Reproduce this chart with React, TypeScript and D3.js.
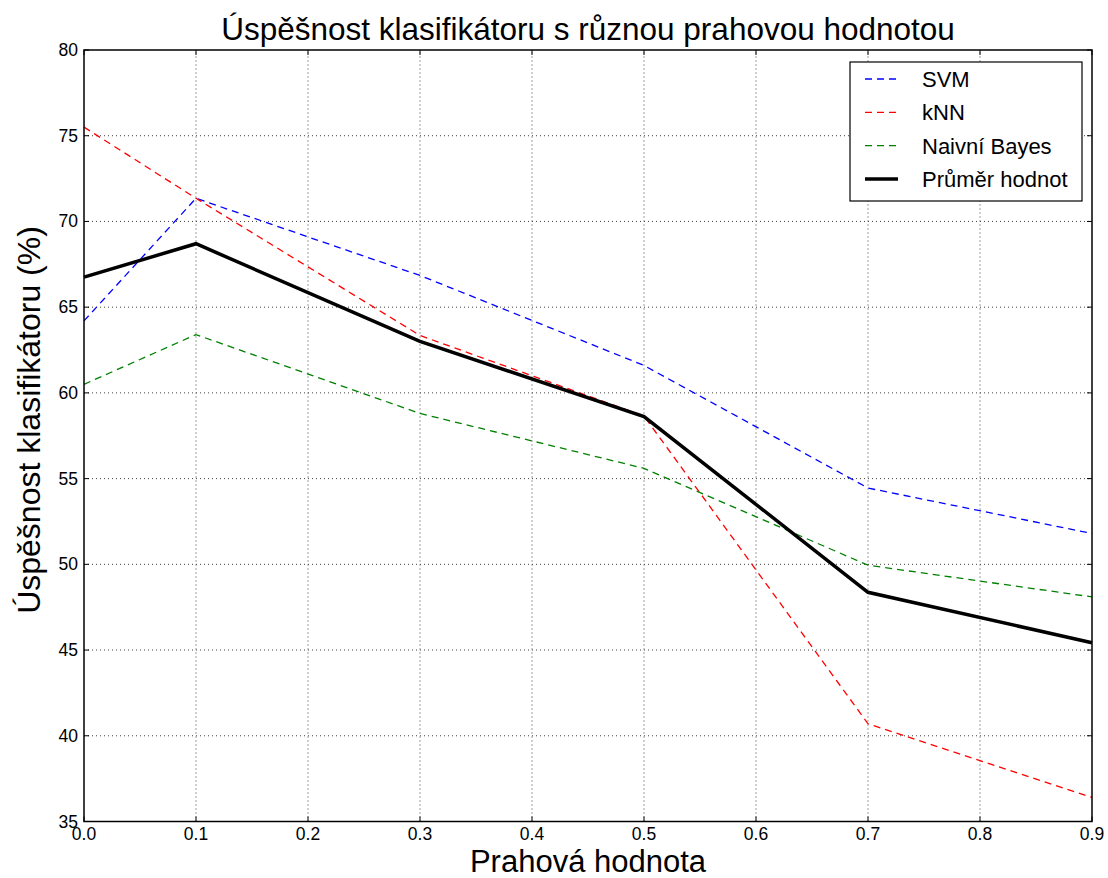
import React from "react";
import * as d3 from "d3";

const thresholds = [0.0, 0.1, 0.3, 0.5, 0.7, 0.9];
const svmValues = [64.2, 71.35, 66.85, 61.6, 54.45, 51.8];
const knnValues = [75.5, 71.35, 63.35, 58.65, 40.7, 36.4];
const bayesValues = [60.5, 63.4, 58.8, 55.6, 49.95, 48.1];
const meanValues = [66.75, 68.7, 63.0, 58.62, 48.37, 45.43];
const xTicks = [0, 0.1, 0.2, 0.3, 0.4, 0.5, 0.6, 0.7, 0.8, 0.9];
const yTicks = [35, 40, 45, 50, 55, 60, 65, 70, 75, 80];

const W = 1108;
const H = 878;
const M = { left: 84, right: 16, top: 50, bottom: 56.5 };
const FONT = "'Liberation Sans', Arial, sans-serif";

type Series = { name: string; values: number[]; color: string; width: number; dash?: string };

const series: Series[] = [
  { name: "SVM", values: svmValues, color: "#0000ff", width: 1.3, dash: "7,5" },
  { name: "kNN", values: knnValues, color: "#ff0000", width: 1.3, dash: "7,5" },
  { name: "Naivní Bayes", values: bayesValues, color: "#008000", width: 1.3, dash: "7,5" },
  { name: "Průměr hodnot", values: meanValues, color: "#000000", width: 3.5 },
];

export default function App() {
  const x = d3.scaleLinear().domain([0, 0.9]).range([M.left, W - M.right]);
  const y = d3.scaleLinear().domain([35, 80]).range([H - M.bottom, M.top]);
  const x0 = M.left, x1 = W - M.right, y0 = H - M.bottom, y1 = M.top;

  const line = (vals: number[]) =>
    d3.line<number>().x((_, i) => x(thresholds[i])).y((v) => y(v))(vals) || "";

  const tickLen = 5;
  const legX = 850, legY = 62, legW = 232, legH = 139;

  return (
    <div style={{ position: "absolute", left: 0, top: 0 }}>
      <svg width={W} height={H} style={{ display: "block", background: "#fff" }}>
        <rect x={0} y={0} width={W} height={H} fill="#fff" />
        {/* grid */}
        <g stroke="#000" strokeWidth={1} strokeDasharray="1,3" opacity={0.75}>
          {xTicks.slice(1, -1).map((t) => (
            <line key={"gx" + t} x1={x(t)} x2={x(t)} y1={y0} y2={y1} />
          ))}
          {yTicks.slice(1, -1).map((t) => (
            <line key={"gy" + t} x1={x0} x2={x1} y1={y(t)} y2={y(t)} />
          ))}
        </g>
        {/* ticks on all sides, pointing inward */}
        <g stroke="#000" strokeWidth={1}>
          {xTicks.map((t) => (
            <g key={"tx" + t}>
              <line x1={x(t)} x2={x(t)} y1={y0} y2={y0 - tickLen} />
              <line x1={x(t)} x2={x(t)} y1={y1} y2={y1 + tickLen} />
            </g>
          ))}
          {yTicks.map((t) => (
            <g key={"ty" + t}>
              <line x1={x0} x2={x0 + tickLen} y1={y(t)} y2={y(t)} />
              <line x1={x1} x2={x1 - tickLen} y1={y(t)} y2={y(t)} />
            </g>
          ))}
        </g>
        {/* data lines */}
        {series.map((s) => (
          <path
            key={s.name}
            d={line(s.values)}
            fill="none"
            stroke={s.color}
            strokeWidth={s.width}
            strokeDasharray={s.dash}
            strokeLinejoin="miter"
          />
        ))}
        {/* frame */}
        <rect x={x0} y={y1} width={x1 - x0} height={y0 - y1} fill="none" stroke="#000" strokeWidth={1.5} />
        {/* tick labels */}
        <g fontFamily={FONT} fontSize={17.5} fill="#000">
          {xTicks.map((t) => (
            <text key={"lx" + t} x={x(t)} y={y0 + 18} textAnchor="middle">
              {t.toFixed(1)}
            </text>
          ))}
          {yTicks.map((t) => (
            <text key={"ly" + t} x={x0 - 6} y={y(t) + 6} textAnchor="end">
              {t}
            </text>
          ))}
        </g>
        {/* title and axis labels */}
        <text x={(x0 + x1) / 2} y={40} textAnchor="middle" fontFamily={FONT} fontSize={31.5}>
          Úspěšnost klasifikátoru s různou prahovou hodnotou
        </text>
        <text x={(x0 + x1) / 2} y={872} textAnchor="middle" fontFamily={FONT} fontSize={31}>
          Prahová hodnota
        </text>
        <text
          transform={`translate(40, 420) rotate(-90)`}
          textAnchor="middle"
          fontFamily={FONT}
          fontSize={32}
        >
          Úspěšnost klasifikátoru (%)
        </text>
        {/* legend */}
        <g>
          <rect x={legX} y={legY} width={legW} height={legH} fill="#fff" stroke="#000" strokeWidth={1.2} />
          {series.map((s, i) => {
            const ly = legY + 17 + i * 33.3;
            return (
              <g key={"leg" + s.name}>
                <line
                  x1={legX + 15}
                  x2={legX + 48}
                  y1={ly}
                  y2={ly}
                  stroke={s.color}
                  strokeWidth={s.width}
                  strokeDasharray={s.dash}
                />
                <text x={legX + 72} y={ly + 8} fontFamily={FONT} fontSize={22}>
                  {s.name}
                </text>
              </g>
            );
          })}
        </g>
      </svg>
    </div>
  );
}
